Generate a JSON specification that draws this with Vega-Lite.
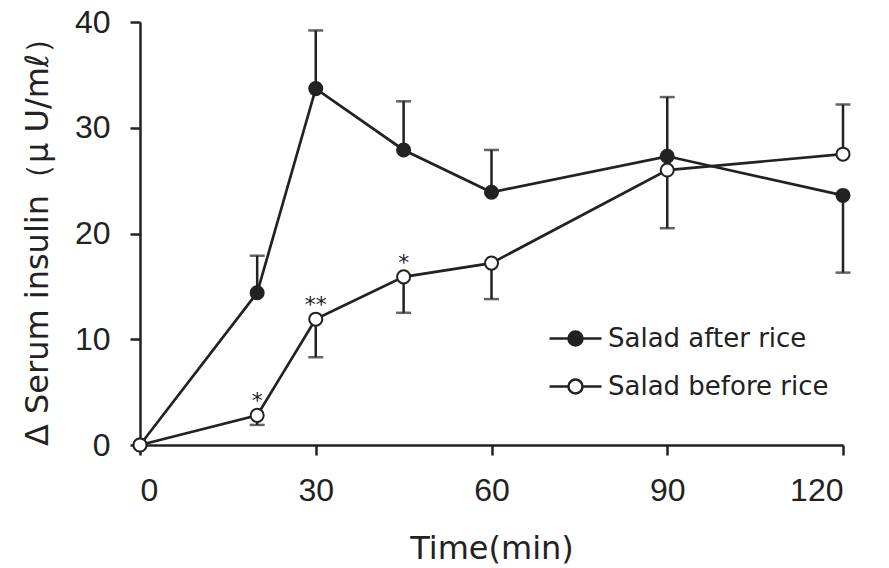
{
  "$schema": "https://vega.github.io/schema/vega-lite/v6.json",
  "width": 703,
  "height": 423,
  "autosize": "none",
  "padding": {"left": 140, "top": 22, "right": 46, "bottom": 123},
  "background": "white",
  "config": {
    "view": {"stroke": null},
    "axis": {
      "grid": false,
      "domainColor": "#222",
      "domainWidth": 2.5,
      "tickColor": "#222",
      "tickWidth": 2.5,
      "tickSize": 10,
      "labelColor": "#222",
      "labelFont": "Liberation Sans",
      "labelFontSize": 32,
      "titleColor": "#222",
      "titleFont": "DejaVu Sans",
      "titleFontSize": 32,
      "titleFontWeight": "normal"
    }
  },
  "data": {
    "values": [
      {"time": 0, "series": "Salad after rice", "mean": 0, "err": null, "star": ""},
      {"time": 20, "series": "Salad after rice", "mean": 14.4, "err": 17.9, "star": ""},
      {"time": 30, "series": "Salad after rice", "mean": 33.7, "err": 39.2, "star": ""},
      {"time": 45, "series": "Salad after rice", "mean": 27.9, "err": 32.5, "star": ""},
      {"time": 60, "series": "Salad after rice", "mean": 23.9, "err": 27.9, "star": ""},
      {"time": 90, "series": "Salad after rice", "mean": 27.3, "err": 32.9, "star": ""},
      {"time": 120, "series": "Salad after rice", "mean": 23.6, "err": 16.3, "star": ""},
      {"time": 0, "series": "Salad before rice", "mean": 0, "err": null, "star": ""},
      {"time": 20, "series": "Salad before rice", "mean": 2.8, "err": 1.9, "star": "*"},
      {"time": 30, "series": "Salad before rice", "mean": 11.9, "err": 8.3, "star": "**"},
      {"time": 45, "series": "Salad before rice", "mean": 15.9, "err": 12.5, "star": "*"},
      {"time": 60, "series": "Salad before rice", "mean": 17.2, "err": 13.8, "star": ""},
      {"time": 90, "series": "Salad before rice", "mean": 26.0, "err": 20.5, "star": ""},
      {"time": 120, "series": "Salad before rice", "mean": 27.5, "err": 32.2, "star": ""}
    ]
  },
  "encoding": {
    "x": {
      "field": "time",
      "type": "quantitative",
      "scale": {"domain": [0, 120], "nice": false},
      "axis": {
        "values": [0, 30, 60, 90, 120],
        "labelPadding": 20,
        "title": "Time(min)",
        "titlePadding": 27
      }
    }
  },
  "layer": [
    {
      "mark": {"type": "line", "color": "#222", "strokeWidth": 2.7},
      "encoding": {
        "y": {
          "field": "mean",
          "type": "quantitative",
          "scale": {"domain": [0, 40], "nice": false},
          "axis": {
            "values": [0, 10, 20, 30, 40],
            "labelPadding": 20,
            "title": "Δ Serum insulin（μ U/mℓ）",
            "titlePadding": 20
          }
        },
        "detail": {"field": "series"}
      }
    },
    {
      "transform": [{"filter": "datum.err != null"}],
      "mark": {"type": "rule", "color": "#222", "strokeWidth": 2.5},
      "encoding": {
        "y": {"field": "mean", "type": "quantitative"},
        "y2": {"field": "err"}
      }
    },
    {
      "transform": [{"filter": "datum.err != null"}],
      "mark": {"type": "tick", "orient": "horizontal", "color": "#222", "size": 15, "thickness": 2.5},
      "encoding": {
        "y": {"field": "err", "type": "quantitative"}
      }
    },
    {
      "mark": {"type": "point", "filled": true, "stroke": "#222", "strokeWidth": 2, "size": 170, "opacity": 1, "shape": "circle"},
      "encoding": {
        "y": {"field": "mean", "type": "quantitative"},
        "fill": {
          "field": "series",
          "type": "nominal",
          "scale": {"domain": ["Salad after rice", "Salad before rice"], "range": ["#222", "white"]},
          "legend": {
            "orient": "none",
            "legendX": 408,
            "legendY": 289,
            "title": null,
            "symbolType": "M-1,0L-0.27,0M0.27,0L1,0M-0.27,0A0.27,0.27 0 1 1 0.27,0A0.27,0.27 0 1 1 -0.27,0Z",
            "symbolSize": 2704,
            "symbolStrokeColor": "#222",
            "symbolStrokeWidth": 2.5,
            "labelFont": "DejaVu Sans",
            "labelFontSize": 26,
            "labelColor": "#222",
            "labelLimit": 400,
            "labelOffset": 5,
            "rowPadding": 7
          }
        }
      }
    },
    {
      "transform": [{"filter": "datum.star != ''"}],
      "mark": {"type": "text", "color": "#222", "fontSize": 22, "font": "DejaVu Sans", "baseline": "bottom", "dy": -2},
      "encoding": {
        "y": {"field": "mean", "type": "quantitative"},
        "text": {"field": "star"}
      }
    }
  ]
}
